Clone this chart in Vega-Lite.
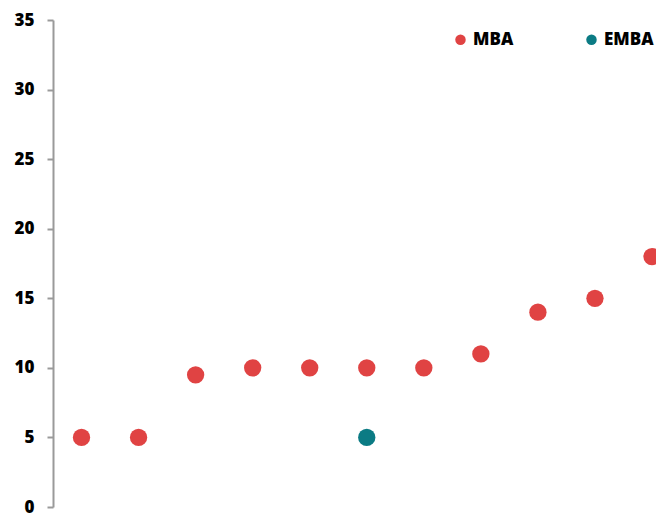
{
  "$schema": "https://vega.github.io/schema/vega-lite/v6.json",
  "width": 603,
  "height": 487,
  "autosize": {"type": "none"},
  "padding": {"left": 53, "top": 20, "right": 0, "bottom": 7},
  "config": {
    "view": {"stroke": null},
    "font": "Open Sans"
  },
  "data": {
    "values": [
      {"pos": 1, "value": 5, "program": "MBA"},
      {"pos": 2, "value": 5, "program": "MBA"},
      {"pos": 3, "value": 9.5, "program": "MBA"},
      {"pos": 4, "value": 10, "program": "MBA"},
      {"pos": 5, "value": 10, "program": "MBA"},
      {"pos": 6, "value": 10, "program": "MBA"},
      {"pos": 7, "value": 10, "program": "MBA"},
      {"pos": 8, "value": 11, "program": "MBA"},
      {"pos": 9, "value": 14, "program": "MBA"},
      {"pos": 10, "value": 15, "program": "MBA"},
      {"pos": 11, "value": 18, "program": "MBA"},
      {"pos": 6, "value": 5, "program": "EMBA"}
    ]
  },
  "mark": {"type": "circle", "size": 300, "opacity": 1, "clip": false},
  "encoding": {
    "x": {
      "field": "pos",
      "type": "quantitative",
      "scale": {"domain": [0.5, 11.07], "nice": false, "zero": false},
      "axis": null
    },
    "y": {
      "field": "value",
      "type": "quantitative",
      "scale": {"domain": [0, 35], "nice": false},
      "axis": {
        "title": null,
        "values": [0, 5, 10, 15, 20, 25, 30, 35],
        "grid": false,
        "domainColor": "#9a9a9a",
        "domainWidth": 2,
        "tickColor": "#9a9a9a",
        "tickWidth": 2,
        "tickSize": 6,
        "labelFont": "Open Sans",
        "labelFontWeight": 800,
        "labelFontSize": 17,
        "labelColor": "#000000",
        "labelPadding": 13
      }
    },
    "color": {
      "field": "program",
      "type": "nominal",
      "scale": {"domain": ["MBA", "EMBA"], "range": ["#E04343", "#0B7B84"]},
      "legend": {
        "title": null,
        "orient": "none",
        "direction": "horizontal",
        "legendX": 399,
        "legendY": 11,
        "symbolType": "circle",
        "symbolSize": 110,
        "symbolOpacity": 1,
        "labelFont": "Open Sans",
        "labelFontWeight": 800,
        "labelFontSize": 17,
        "labelColor": "#000000",
        "labelOffset": 4,
        "columnPadding": 69
      }
    }
  }
}
